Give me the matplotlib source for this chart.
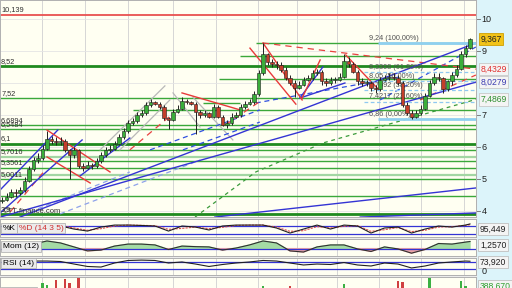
import numpy as np
import matplotlib.pyplot as plt
from matplotlib.patches import Rectangle
from matplotlib.transforms import blended_transform_factory

plt.rcParams['font.family'] = ['Liberation Sans', 'DejaVu Sans']

# daily candles
closes = [4.35, 4.45, 4.6, 4.55, 4.65, 4.95, 5.3, 5.6, 5.65, 5.95,
          6.25, 6.2, 6.15, 6.2, 5.9, 5.75, 5.9, 5.4, 5.35, 5.45,
          5.4, 5.55, 5.75, 5.9, 5.95, 6.1, 6.3, 6.5, 6.75, 6.8,
          7.0, 7.05, 7.3, 7.4, 7.35, 7.25, 6.9, 6.85, 7.1, 7.2,
          7.45, 7.4, 7.35, 7.1, 7.0, 7.05, 6.95, 7.25, 6.95, 6.7,
          6.75, 6.95, 7.0, 7.25, 7.35, 7.4, 7.65, 8.3, 8.9, 8.65,
          8.6, 8.55, 8.4, 8.15, 8.0, 7.85, 7.95, 8.1, 8.15, 8.3,
          8.35, 8.05, 8.0, 8.1, 8.1, 8.2, 8.7, 8.6, 8.35, 8.05,
          8.0, 8.0, 7.85, 7.8, 8.1, 8.15, 8.2, 8.15, 8.0, 7.3,
          7.05, 6.95, 7.05, 7.2, 7.6, 8.0, 8.2, 8.15, 7.8, 8.05,
          8.25, 8.45, 8.9, 9.1, 9.367]
opens = [4.3, 4.35, 4.45, 4.6, 4.55, 4.65, 4.95, 5.3, 5.6, 5.65,
         5.95, 6.25, 6.2, 6.15, 6.2, 5.9, 5.75, 5.9, 5.4, 5.35,
         5.45, 5.4, 5.55, 5.75, 5.9, 5.95, 6.1, 6.3, 6.5, 6.75,
         6.8, 7.0, 7.05, 7.3, 7.4, 7.35, 7.25, 6.9, 6.85, 7.1,
         7.2, 7.45, 7.4, 7.35, 7.1, 7.0, 7.05, 6.95, 7.25, 6.95,
         6.7, 6.75, 6.95, 7.0, 7.25, 7.35, 7.4, 7.65, 8.3, 8.9,
         8.65, 8.6, 8.55, 8.4, 8.15, 8.0, 7.85, 7.95, 8.1, 8.15,
         8.3, 8.35, 8.05, 8.0, 8.1, 8.1, 8.2, 8.7, 8.6, 8.35,
         8.05, 8.0, 8.0, 7.85, 7.8, 8.1, 8.15, 8.2, 8.15, 8.0,
         7.3, 7.05, 6.95, 7.05, 7.2, 7.6, 8.0, 8.2, 8.15, 7.8,
         8.05, 8.25, 8.45, 8.9, 9.1]
highs = [4.45, 4.55, 4.7, 4.7, 4.75, 5.05, 5.4, 5.7, 5.8, 6.05,
         6.5, 6.35, 6.3, 6.3, 6.25, 5.95, 6.0, 5.95, 5.5, 5.55,
         5.5, 5.65, 5.85, 6.0, 6.05, 6.2, 6.4, 6.6, 6.85, 6.9,
         7.1, 7.15, 7.4, 7.5, 7.45, 7.4, 7.3, 6.95, 7.2, 7.3,
         7.55, 7.5, 7.45, 7.4, 7.15, 7.15, 7.1, 7.35, 7.3, 7.0,
         6.85, 7.05, 7.1, 7.35, 7.45, 7.5, 7.75, 8.4, 9.24, 8.95,
         8.75, 8.7, 8.65, 8.5, 8.25, 8.1, 8.05, 8.2, 8.25, 8.4,
         8.45, 8.4, 8.15, 8.2, 8.2, 8.3, 8.9, 8.8, 8.65, 8.4,
         8.15, 8.1, 8.05, 7.95, 8.2, 8.25, 8.3, 8.3, 8.25, 8.05,
         7.4, 7.15, 7.15, 7.3, 7.7, 8.1, 8.3, 8.3, 8.2, 8.1,
         8.35, 8.55, 9.0, 9.2, 9.42]
lows = [4.25, 4.3, 4.4, 4.45, 4.5, 4.6, 4.9, 5.25, 5.5, 5.6,
        5.9, 6.1, 6.05, 6.05, 5.85, 5.0, 5.65, 5.35, 5.25, 5.3,
        5.3, 5.35, 5.5, 5.7, 5.85, 5.9, 6.05, 6.25, 6.45, 6.7,
        6.75, 6.95, 7.0, 7.25, 7.3, 7.2, 6.85, 6.55, 6.8, 7.05,
        7.15, 7.35, 7.3, 6.4, 6.9, 6.95, 6.9, 6.9, 6.9, 6.65,
        6.6, 6.7, 6.9, 6.95, 7.2, 7.3, 7.35, 7.6, 8.25, 8.55,
        8.5, 8.45, 8.35, 8.1, 7.95, 7.55, 7.8, 7.9, 8.05, 8.1,
        8.25, 7.95, 7.9, 7.95, 8.0, 8.05, 8.15, 8.5, 8.3, 7.95,
        7.9, 7.9, 7.75, 7.7, 7.75, 8.05, 8.1, 8.1, 7.95, 7.25,
        7.0, 6.86, 6.9, 7.0, 7.15, 7.55, 7.95, 8.05, 7.7, 7.75,
        7.95, 8.2, 8.4, 8.8, 9.05]
volume = [320, 280, 350, 300, 410, 450, 380, 420, 390, 740,
          650, 430, 870, 380, 910, 740, 400, 1000, 350, 300,
          280, 330, 360, 310, 420, 380, 300, 350, 400, 330,
          290, 310, 360, 420, 380, 330, 410, 440, 300, 280,
          320, 350, 300, 420, 330, 290, 310, 360, 300, 280,
          260, 300, 330, 290, 310, 350, 420, 480, 610, 400,
          380, 330, 300, 350, 610, 420, 330, 300, 280, 310,
          330, 360, 300, 290, 280, 320, 700, 420, 380, 330,
          300, 280, 310, 290, 330, 300, 280, 350, 820, 800,
          450, 410, 380, 350, 420, 960, 500, 420, 380, 350,
          400, 450, 820, 600, 389]

# indicators, sampled every third bar
ind_idx = list(range(7, 104, 3)) + [104]
stoch_k = [85, 85, 80, 57, 42, 72, 87, 87, 84, 80, 42, 80, 72, 50, 80, 87, 87,
           87, 65, 27, 57, 87, 57, 87, 80, 27, 65, 72, 27, 57, 80, 72, 87, 95.449]
stoch_d = [85, 85, 82, 65, 48, 60, 80, 87, 85, 82, 55, 62, 72, 60, 70, 84, 87,
           87, 72, 40, 45, 75, 65, 78, 82, 40, 52, 68, 38, 48, 72, 75, 84, 90]
mom = [0.8, 1.35, 1.0, 0.3, -0.4, -0.25, 0.45, 0.8, 0.8, 0.65, -0.15, 0.45,
       0.35, 0.3, -0.25, 0.1, 0.65, 1.35, 1.0, -0.4, -0.6, 0.3, 0.65, 0.65,
       -0.05, -0.5, 0.3, -0.05, -0.8, -0.15, 0.9, 0.8, 1.15, 1.257]
rsi = [75, 75, 72.5, 59, 46, 43, 64.5, 78, 80, 78, 64.5, 70, 59, 46, 56.5,
       64.5, 70, 78, 75, 64.5, 54, 59, 56.5, 67, 54, 48.5, 64.5, 59, 38, 48.5,
       64.5, 70, 75, 73.92]

# support / resistance levels
level_prices = [9.24, 8.84, 8.52, 8.125, 7.52, 7.375, 7.16, 6.6894, 6.5484,
                6.1, 5.91, 5.7016, 5.56, 5.3561, 5.13, 5.0011, 4.47, 3.9]
level_labels = {10.139: '10,139', 8.52: '8,52', 7.52: '7,52', 6.6894: '6,6894',
                6.5484: '6,5484', 6.1: '6,1', 5.7016: '5,7016', 5.3561: '5,3561',
                5.0011: '5,0011', 3.9: '3,9'}
fib_prices = [9.24, 8.3308, 8.05, 7.7692, 7.4217, 6.86]
fib_labels = ['9,24 (100,00%)', '8,3308 (61,80%)', '8,05 (50,00%)',
              '7,7692 (38,20%)', '7,4217 (23,60%)', '6,86 (0,00%)']
month_lines = [8.9, 18.4, 28.0, 38.0, 47.6, 56.9, 65.6, 74.4, 83.8, 93.1, 102.7]

# trend lines as (bar0, price0, bar1, price1)
blue_lines = [(-0.4, 4.66, 12.4, 6.53), (-0.4, 3.94, 17.8, 6.22), (17.3, 5.09, 28.4, 6.28),
              (4.0, 3.81, 105.3, 9.25), (-0.4, 3.81, 105.3, 8.0279), (47.3, 3.81, 105.3, 4.72),
              (79.6, 3.81, 105.3, 3.94), (66.2, 7.53, 71.3, 8.5), (66.2, 7.53, 76.2, 8.0)]
blue_dashed = [(32.9, 5.91, 57.3, 7.16), (40.2, 5.91, 57.3, 6.78),
               (56.4, 7.375, 88.4, 8.19), (84.0, 7.47, 105.3, 9.125)]
pale_dashed = [(6.2, 3.97, 28.4, 5.22), (12.9, 3.91, 44.0, 5.59)]
red_lines = [(10.0, 6.53, 24.0, 5.22), (10.0, 5.69, 19.6, 4.875), (40.0, 7.69, 52.9, 7.16),
             (58.0, 9.25, 66.7, 7.47), (55.1, 9.09, 65.3, 7.34), (66.7, 7.53, 70.7, 8.72),
             (76.4, 8.875, 83.8, 7.78)]
red_dashed = [(58.0, 9.25, 105.3, 8.4329), (1.8, 3.97, 9.6, 5.28), (28.4, 5.91, 38.4, 7.09),
              (49.6, 6.69, 57.8, 7.47), (92.9, 7.47, 105.3, 8.25)]
grey_lines = [(21.8, 5.91, 36.2, 7.91), (26.2, 5.91, 37.3, 7.47),
              (42.4, 7.56, 51.3, 6.22), (38.0, 7.69, 44.0, 6.625)]
green_trend_x = [42.9, 56.4, 71.3, 105.3]
green_trend_y = [3.81, 5.22, 6.125, 7.4869]

XMIN, XMAX = -2 / 4.5, 474 / 4.5
W = 476 / 512
BG = '#fffff2'

fig = plt.figure(figsize=(5.12, 2.88), dpi=100)
fig.patch.set_facecolor('#dcf4fa')
fig.add_artist(Rectangle((0, 0), W, 1, transform=fig.transFigure,
                         color='#ececec', zorder=-10))


def panel(top, bottom):
    a = fig.add_axes([0, 1 - bottom / 288, W, (bottom - top) / 288])
    a.set_facecolor(BG)
    a.set_xlim(XMIN, XMAX)
    a.set_xticks(month_lines)
    a.tick_params(length=0, labelbottom=False, labelleft=False)
    a.grid(axis='x', color='#d6d6d6', lw=0.7)
    a.set_axisbelow(True)
    for s in a.spines.values():
        s.set_color('#b0b0b0')
        s.set_linewidth(0.7)
    return a


def seg(a, lines, **kw):
    for x0, y0, x1, y1 in lines:
        a.plot([x0, x1], [y0, y1], **kw)


ax = panel(0, 217)
ax.set_ylim(3.8125, 10.594)
ax.set_yticks(range(4, 11))
ax.grid(axis='y', color='#e4e4e4', lw=0.6)

ax.axhline(10.139, color='#e85050', lw=1.3)
thick = {8.52, 6.1, 3.9}
pale = {5.7016, 5.13}
starts = {9.24: 56.4, 8.84: 52.9, 8.125: 48.2, 7.375: 44.7, 7.16: 29.1}
for p in level_prices:
    x1 = 52.9 if p == 7.375 else XMAX
    if p in thick:
        ax.hlines(p, XMIN, x1, color='#1f8a1f', lw=2.0)
    elif p in pale:
        ax.hlines(p, XMIN, x1, color='#a3d6a3', lw=1.6)
    else:
        ax.hlines(p, starts.get(p, XMIN), x1, color='#3aa83a', lw=1.0)

seg(ax, grey_lines, color='#b8b8b8', lw=0.9)
seg(ax, pale_dashed, color='#8ea2ea', lw=0.9, ls=(0, (4, 3)))
seg(ax, blue_dashed, color='#3050e0', lw=0.9, ls=(0, (4, 3)))
seg(ax, red_dashed, color='#e84040', lw=0.9, ls=(0, (5, 4)))
ax.plot(green_trend_x, green_trend_y, color='#3a9a3a', lw=0.9, ls=(0, (3, 3)))
seg(ax, blue_lines, color='#3434d4', lw=1.0)
seg(ax, red_lines, color='#e83a3a', lw=1.0)

# fibonacci retracement
for p, lab in zip(fib_prices, fib_labels):
    if p in (9.24, 6.86):
        ax.hlines(p, 83.6, XMAX, color='#8fd0f0', lw=2.0)
    else:
        ax.hlines(p, 80.5, XMAX, color='#8fc8f0', lw=0.9, ls=(0, (3, 2)))
    ax.text(81.5, p + 0.04, lab, fontsize=5.2, color='#505050', va='bottom')

# candles
x = np.arange(len(closes))
for i in x:
    o, c = opens[i], closes[i]
    up = c >= o
    ax.vlines(i, lows[i], highs[i], color='#202020', lw=0.7, zorder=5)
    ax.bar(i, max(abs(c - o), 0.03), bottom=min(o, c), width=0.74,
           color='#3aae3a' if up else '#c43e2a', edgecolor='#1e1e1e',
           lw=0.4, zorder=6)

for p, lab in level_labels.items():
    ax.text(-0.2, p + 0.04, lab, fontsize=5.3, color='#303030', va='bottom')
ax.text(0.006, 0.026, '\u00a9TT-finance.com', transform=ax.transAxes,
        fontsize=5.5, color='#303030', va='center')

bt = blended_transform_factory(ax.transAxes, ax.transData)
for v in [10, 9, 7, 6, 5, 4]:
    ax.plot([1.0, 1.008], [v, v], transform=bt, color='#808080', lw=0.7, clip_on=False)
    ax.text(1.012, v, str(v), transform=bt, fontsize=6.5, va='center', color='#202020')
tags = [(9.367, '9,367', '#202020', '#f2c318', '#d0a000'),
        (8.4329, '8,4329', '#e03030', '#f4f4f4', '#c8c8c8'),
        (8.0279, '8,0279', '#3a3ab0', '#f4f4f4', '#c8c8c8'),
        (7.4869, '7,4869', '#2f8f2f', '#f4f4f4', '#c8c8c8')]
for v, lab, tc, fc, ec in tags:
    ax.text(1.009, v, lab, transform=bt, fontsize=6.2, va='center', color=tc,
            bbox=dict(boxstyle='square,pad=0.2', fc=fc, ec=ec, lw=0.6))

box = dict(boxstyle='square,pad=0.2', fc='#ebebeb', ec='#a8a8a8', lw=0.5)

# stochastic
axs = panel(219, 237)
axs.set_ylim(-2.5, 132.5)
axs.axhline(80, color='#3434d4', lw=0.9)
axs.axhline(20, color='#3434d4', lw=0.9)
axs.plot(ind_idx, stoch_d, color='#e05050', lw=0.8, ls=(0, (2, 1)))
axs.plot(ind_idx, stoch_k, color='#202020', lw=0.8)
axs.text(0.006, 0.5, '%K', transform=axs.transAxes, fontsize=6, va='center', bbox=box, zorder=10)
axs.text(0.04, 0.5, '%D (14 3 5)', transform=axs.transAxes, fontsize=6, va='center',
         color='#d03030', bbox=box, zorder=10)

# momentum
axm = panel(239, 256)
axm.set_ylim(-1.3, 1.7)
m = np.array(mom)
axm.fill_between(ind_idx, m, 0, where=m >= 0, interpolate=True, color='#a4dba4')
axm.fill_between(ind_idx, m, 0, where=m <= 0, interpolate=True, color='#eba4a4')
axm.axhline(0, color='#3434d4', lw=0.9)
axm.plot(ind_idx, mom, color='#303030', lw=0.8)
axm.text(0.006, 0.55, 'Mom (12)', transform=axm.transAxes, fontsize=6, va='center', bbox=box, zorder=10)

# rsi
axr = panel(258, 275)
axr.set_ylim(0.5, 91.2)
axr.axhline(70, color='#3434d4', lw=0.9)
axr.axhline(30, color='#3434d4', lw=0.9)
axr.plot(ind_idx, rsi, color='#202020', lw=0.8)
axr.text(0.006, 0.7, 'RSI (14)', transform=axr.transAxes, fontsize=6, va='center', bbox=box, zorder=10)

# volume
axv = panel(277, 300)
axv.set_ylim(0, 1000)
vcol = ['#3cb043' if c >= o else '#d04040' for o, c in zip(opens, closes)]
axv.bar(x, volume, width=0.5, color=vcol)
axv.text(0.006, 0.35, 'Volumen', transform=axv.transAxes, fontsize=6, va='center',
         color='#2f9f2f', bbox=box, zorder=10)

right_vals = [(229, '95,449', '#202020'), (245, '1,2570', '#202020'),
              (262, '73,920', '#202020'), (286, '388,670', '#2f9f2f')]
for py, lab, tc in right_vals:
    fig.text(480 / 512, 1 - py / 288, lab, fontsize=6.2, va='center', color=tc,
             bbox=dict(boxstyle='square,pad=0.2', fc='#f4f4f4', ec='#c0c0c0', lw=0.6))
fig.text(482 / 512, 1 - 271 / 288, '0', fontsize=6.5, va='center', color='#202020')

fig.savefig('out.png', dpi=100, facecolor=fig.get_facecolor())
